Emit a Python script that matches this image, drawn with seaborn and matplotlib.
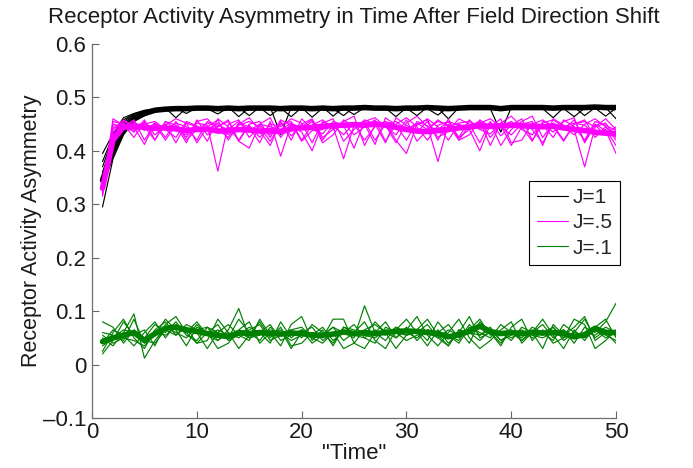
import numpy as np
import pandas as pd
import matplotlib
matplotlib.use("Agg")
import matplotlib.pyplot as plt
import seaborn as sns
from matplotlib.lines import Line2D

# time steps
t = list(range(1, 51))

# J=1 (black) individual runs
b_runs = [
    [0.395,0.432,0.462,0.470,0.476,0.479,0.481,0.480,0.470,0.481,0.482,0.480,0.479,0.481,0.466,0.482,0.480,0.481,0.479,0.482,0.480,0.478,0.481,0.480,0.482,0.481,0.479,0.480,0.464,0.481,0.482,0.480,0.479,0.481,0.480,0.482,0.480,0.481,0.479,0.482,0.481,0.480,0.479,0.462,0.481,0.482,0.480,0.481,0.479,0.482],
    [0.370,0.425,0.455,0.468,0.474,0.478,0.480,0.462,0.480,0.481,0.479,0.482,0.480,0.481,0.480,0.479,0.482,0.430,0.481,0.480,0.482,0.479,0.481,0.480,0.468,0.481,0.480,0.482,0.480,0.479,0.481,0.480,0.482,0.481,0.479,0.480,0.482,0.481,0.480,0.479,0.482,0.481,0.480,0.481,0.479,0.482,0.466,0.481,0.480,0.481],
    [0.350,0.410,0.448,0.463,0.472,0.477,0.479,0.481,0.480,0.482,0.479,0.469,0.481,0.480,0.482,0.481,0.479,0.480,0.482,0.481,0.463,0.480,0.482,0.481,0.479,0.480,0.482,0.481,0.480,0.479,0.482,0.481,0.480,0.460,0.481,0.479,0.482,0.480,0.481,0.480,0.479,0.482,0.481,0.480,0.482,0.479,0.481,0.480,0.465,0.480],
    [0.340,0.405,0.445,0.460,0.470,0.476,0.479,0.480,0.482,0.478,0.481,0.480,0.482,0.464,0.481,0.480,0.482,0.479,0.481,0.480,0.482,0.481,0.479,0.466,0.482,0.480,0.481,0.479,0.482,0.480,0.481,0.479,0.467,0.482,0.480,0.481,0.479,0.482,0.481,0.480,0.479,0.482,0.480,0.481,0.479,0.482,0.481,0.480,0.482,0.479],
    [0.330,0.400,0.440,0.458,0.468,0.474,0.478,0.480,0.481,0.479,0.482,0.480,0.481,0.479,0.482,0.481,0.466,0.481,0.480,0.482,0.479,0.481,0.480,0.482,0.481,0.479,0.482,0.480,0.481,0.479,0.482,0.481,0.480,0.479,0.482,0.481,0.480,0.479,0.435,0.481,0.482,0.480,0.481,0.479,0.482,0.480,0.481,0.479,0.482,0.481],
    [0.360,0.418,0.452,0.466,0.473,0.477,0.480,0.481,0.479,0.482,0.480,0.481,0.479,0.482,0.481,0.480,0.479,0.482,0.481,0.480,0.479,0.482,0.465,0.481,0.480,0.482,0.479,0.481,0.480,0.482,0.479,0.481,0.480,0.482,0.481,0.479,0.480,0.482,0.481,0.480,0.479,0.482,0.481,0.480,0.479,0.464,0.480,0.481,0.479,0.478],
    [0.295,0.385,0.430,0.455,0.466,0.473,0.477,0.479,0.481,0.480,0.482,0.479,0.481,0.480,0.482,0.479,0.481,0.480,0.479,0.482,0.481,0.480,0.482,0.479,0.481,0.480,0.482,0.479,0.481,0.480,0.466,0.482,0.481,0.480,0.479,0.482,0.481,0.480,0.482,0.479,0.481,0.480,0.482,0.479,0.481,0.480,0.482,0.479,0.481,0.460],
    [0.380,0.428,0.458,0.469,0.475,0.478,0.480,0.482,0.481,0.479,0.480,0.482,0.481,0.480,0.479,0.482,0.481,0.480,0.464,0.481,0.480,0.482,0.481,0.479,0.480,0.482,0.481,0.480,0.479,0.482,0.481,0.480,0.479,0.482,0.481,0.480,0.479,0.482,0.481,0.480,0.482,0.479,0.481,0.480,0.482,0.479,0.481,0.480,0.482,0.481],
]
b_mean = [0.345,0.400,0.440,0.460,0.470,0.476,0.478,0.479,0.479,0.480,0.480,0.479,0.480,0.479,0.480,0.480,0.480,0.479,0.480,0.480,0.479,0.480,0.479,0.480,0.480,0.481,0.480,0.480,0.479,0.480,0.480,0.481,0.480,0.479,0.480,0.481,0.481,0.481,0.479,0.481,0.481,0.481,0.481,0.480,0.481,0.481,0.481,0.482,0.481,0.481]

# J=.5 (magenta) individual runs
m_runs = [
    [0.320,0.455,0.450,0.425,0.455,0.430,0.448,0.460,0.452,0.415,0.445,0.458,0.420,0.450,0.462,0.438,0.410,0.455,0.428,0.450,0.460,0.425,0.440,0.455,0.465,0.410,0.448,0.452,0.420,0.395,0.450,0.458,0.425,0.437,0.460,0.450,0.415,0.455,0.428,0.448,0.460,0.420,0.450,0.435,0.455,0.462,0.415,0.448,0.430,0.445],
    [0.335,0.440,0.458,0.445,0.412,0.452,0.440,0.425,0.455,0.447,0.418,0.460,0.445,0.420,0.450,0.455,0.425,0.458,0.448,0.435,0.400,0.452,0.460,0.418,0.440,0.458,0.450,0.415,0.462,0.448,0.435,0.455,0.420,0.460,0.420,0.448,0.455,0.410,0.452,0.465,0.445,0.418,0.455,0.448,0.420,0.450,0.458,0.425,0.445,0.420],
    [0.315,0.450,0.445,0.458,0.420,0.450,0.420,0.448,0.415,0.458,0.430,0.445,0.455,0.418,0.405,0.450,0.462,0.425,0.452,0.440,0.455,0.415,0.430,0.458,0.445,0.450,0.412,0.462,0.448,0.420,0.455,0.447,0.380,0.450,0.425,0.458,0.440,0.452,0.410,0.440,0.455,0.465,0.425,0.452,0.440,0.458,0.418,0.450,0.438,0.395],
    [0.330,0.430,0.452,0.435,0.458,0.420,0.455,0.440,0.430,0.452,0.448,0.362,0.450,0.458,0.425,0.448,0.430,0.455,0.420,0.460,0.440,0.432,0.455,0.448,0.405,0.455,0.462,0.445,0.430,0.458,0.418,0.440,0.455,0.448,0.420,0.430,0.458,0.445,0.460,0.415,0.420,0.452,0.448,0.425,0.458,0.445,0.420,0.455,0.448,0.438],
    [0.325,0.445,0.440,0.452,0.445,0.420,0.455,0.448,0.425,0.455,0.460,0.440,0.425,0.452,0.445,0.415,0.455,0.390,0.450,0.445,0.458,0.420,0.448,0.430,0.452,0.445,0.458,0.418,0.450,0.462,0.445,0.420,0.448,0.455,0.425,0.440,0.452,0.460,0.445,0.430,0.450,0.455,0.410,0.460,0.448,0.440,0.370,0.445,0.452,0.425],
    [0.318,0.460,0.448,0.455,0.438,0.452,0.425,0.455,0.420,0.440,0.452,0.445,0.458,0.418,0.448,0.425,0.450,0.445,0.460,0.452,0.415,0.455,0.445,0.385,0.448,0.455,0.420,0.450,0.455,0.440,0.448,0.460,0.445,0.420,0.450,0.440,0.455,0.425,0.448,0.410,0.445,0.450,0.458,0.445,0.418,0.450,0.455,0.445,0.460,0.440],
    [0.340,0.435,0.455,0.448,0.452,0.440,0.450,0.415,0.452,0.445,0.440,0.452,0.430,0.448,0.455,0.445,0.418,0.450,0.455,0.420,0.448,0.458,0.440,0.452,0.430,0.445,0.455,0.448,0.415,0.452,0.465,0.445,0.440,0.455,0.448,0.440,0.400,0.450,0.445,0.455,0.440,0.430,0.452,0.458,0.445,0.430,0.450,0.460,0.445,0.430],
    [0.328,0.450,0.442,0.438,0.450,0.455,0.440,0.452,0.445,0.420,0.455,0.448,0.440,0.455,0.438,0.450,0.445,0.440,0.452,0.418,0.438,0.440,0.452,0.445,0.450,0.420,0.445,0.455,0.448,0.440,0.452,0.440,0.458,0.445,0.452,0.455,0.440,0.432,0.450,0.445,0.452,0.440,0.415,0.450,0.445,0.452,0.448,0.430,0.440,0.410],
]
m_mean = [0.330,0.420,0.445,0.445,0.444,0.442,0.443,0.441,0.438,0.440,0.441,0.437,0.438,0.440,0.439,0.437,0.438,0.436,0.441,0.443,0.444,0.446,0.447,0.448,0.449,0.448,0.450,0.448,0.444,0.440,0.437,0.436,0.438,0.440,0.443,0.445,0.447,0.446,0.447,0.448,0.447,0.446,0.445,0.446,0.443,0.440,0.438,0.435,0.433,0.432]

# J=.1 (green) individual runs
g_runs = [
    [0.080,0.070,0.040,0.065,0.050,0.075,0.060,0.080,0.055,0.045,0.070,0.060,0.050,0.085,0.060,0.045,0.070,0.055,0.065,0.050,0.075,0.060,0.040,0.070,0.065,0.055,0.080,0.060,0.050,0.070,0.045,0.065,0.060,0.075,0.050,0.065,0.085,0.055,0.060,0.045,0.070,0.060,0.075,0.050,0.065,0.040,0.070,0.060,0.080,0.115],
    [0.025,0.060,0.085,0.050,0.030,0.065,0.080,0.055,0.070,0.040,0.060,0.075,0.045,0.055,0.070,0.060,0.040,0.080,0.050,0.065,0.055,0.070,0.045,0.060,0.075,0.050,0.040,0.070,0.060,0.055,0.065,0.045,0.080,0.055,0.040,0.070,0.060,0.050,0.075,0.060,0.045,0.065,0.055,0.070,0.045,0.060,0.085,0.050,0.065,0.055],
    [0.050,0.035,0.060,0.095,0.012,0.045,0.070,0.060,0.050,0.075,0.055,0.045,0.065,0.105,0.050,0.060,0.075,0.045,0.055,0.065,0.040,0.055,0.070,0.060,0.050,0.110,0.060,0.045,0.070,0.055,0.060,0.075,0.050,0.035,0.065,0.060,0.055,0.070,0.045,0.060,0.050,0.070,0.060,0.045,0.075,0.060,0.050,0.065,0.055,0.045],
    [0.020,0.045,0.080,0.055,0.065,0.035,0.075,0.090,0.060,0.040,0.045,0.085,0.060,0.030,0.055,0.080,0.050,0.070,0.035,0.040,0.060,0.050,0.085,0.085,0.040,0.030,0.060,0.080,0.050,0.065,0.090,0.055,0.035,0.060,0.085,0.050,0.030,0.045,0.065,0.080,0.040,0.060,0.030,0.075,0.055,0.070,0.090,0.045,0.060,0.040],
    [0.060,0.055,0.045,0.085,0.040,0.055,0.085,0.065,0.035,0.070,0.060,0.030,0.040,0.065,0.080,0.040,0.060,0.035,0.075,0.090,0.045,0.065,0.035,0.070,0.060,0.080,0.045,0.030,0.065,0.085,0.060,0.035,0.065,0.040,0.060,0.090,0.050,0.060,0.035,0.070,0.085,0.045,0.065,0.040,0.050,0.085,0.075,0.030,0.045,0.065],
    [0.040,0.065,0.055,0.035,0.060,0.080,0.050,0.075,0.065,0.060,0.030,0.060,0.075,0.055,0.045,0.085,0.055,0.065,0.030,0.060,0.070,0.045,0.060,0.030,0.040,0.065,0.075,0.060,0.030,0.055,0.065,0.085,0.055,0.035,0.065,0.040,0.080,0.060,0.040,0.065,0.045,0.060,0.085,0.055,0.030,0.065,0.045,0.070,0.085,0.050],
    [0.035,0.050,0.065,0.060,0.045,0.040,0.065,0.055,0.075,0.065,0.070,0.045,0.060,0.050,0.065,0.075,0.045,0.055,0.065,0.070,0.050,0.040,0.060,0.065,0.055,0.050,0.065,0.055,0.070,0.060,0.050,0.065,0.060,0.055,0.045,0.075,0.055,0.065,0.045,0.055,0.065,0.050,0.060,0.070,0.050,0.060,0.055,0.065,0.050,0.060],
    [0.055,0.040,0.050,0.045,0.035,0.060,0.055,0.070,0.060,0.080,0.055,0.065,0.055,0.060,0.050,0.055,0.065,0.060,0.045,0.055,0.060,0.055,0.070,0.045,0.060,0.055,0.050,0.065,0.060,0.045,0.055,0.060,0.050,0.065,0.055,0.060,0.045,0.065,0.060,0.050,0.060,0.055,0.050,0.060,0.065,0.050,0.060,0.055,0.070,0.060],
]
g_mean = [0.043,0.050,0.055,0.060,0.045,0.058,0.068,0.070,0.065,0.062,0.058,0.055,0.052,0.060,0.058,0.060,0.058,0.057,0.059,0.058,0.055,0.055,0.057,0.061,0.058,0.060,0.058,0.060,0.062,0.063,0.062,0.060,0.058,0.052,0.056,0.062,0.072,0.062,0.058,0.060,0.058,0.060,0.059,0.060,0.058,0.052,0.056,0.068,0.060,0.060]

labels = ['J=1', 'J=.5', 'J=.1']
colors = ['black', '#ff00ff', '#008000']
yticks = [-0.1, 0, 0.1, 0.2, 0.3, 0.4, 0.5, 0.6]
ytick_labels = ['\u20130.1', '0', '0.1', '0.2', '0.3', '0.4', '0.5', '0.6']
xticks = [0, 10, 20, 30, 40, 50]

# long-form tables
rows = []
for lab, runs in zip(labels, [b_runs, m_runs, g_runs]):
    for i, r in enumerate(runs):
        for tt, v in zip(t, r):
            rows.append((lab, f'{lab}_{i}', tt, v))
runs_df = pd.DataFrame(rows, columns=['J', 'run', 't', 'value'])

mean_rows = []
for lab, mm in zip(labels, [b_mean, m_mean, g_mean]):
    for tt, v in zip(t, mm):
        mean_rows.append((lab, tt, v))
mean_df = pd.DataFrame(mean_rows, columns=['J', 't', 'value'])

sns.set_style('ticks')
plt.rcParams['font.family'] = ['Liberation Sans', 'DejaVu Sans']

fig = plt.figure(figsize=(6.93, 4.68), dpi=100)
ax = fig.add_axes([0.1328, 0.1068, 0.889 - 0.1328, 0.906 - 0.1068])

pal = dict(zip(labels, colors))
for lab in labels:
    sns.lineplot(data=runs_df[runs_df['J'] == lab], x='t', y='value', units='run',
                 estimator=None, color=pal[lab], lw=0.85, ax=ax, legend=False)
    sns.lineplot(data=mean_df[mean_df['J'] == lab], x='t', y='value',
                 color=pal[lab], lw=4, ax=ax, legend=False)

ax.set_xlim(0, 50)
ax.set_ylim(-0.1, 0.6)
ax.set_xticks(xticks)
ax.set_yticks(yticks)
ax.set_yticklabels(ytick_labels)
ax.tick_params(direction='in', length=5, width=0.8, labelsize=16, colors='#666666',
               labelcolor='#1a1a1a')
ax.tick_params(axis='y', pad=4)
ax.tick_params(axis='x', pad=3)
for s in ['top', 'right']:
    ax.spines[s].set_visible(False)
for s in ['left', 'bottom']:
    ax.spines[s].set_color('#6e6e6e')
    ax.spines[s].set_linewidth(0.9)

ax.set_title('Receptor Activity Asymmetry in Time After Field Direction Shift',
             fontsize=16, color='#1a1a1a', pad=15)
ax.set_xlabel('"Time"', fontsize=16, color='#1a1a1a', labelpad=0)
ax.set_ylabel('Receptor Activity Asymmetry', fontsize=15.5, color='#1a1a1a', labelpad=1)

handles = [Line2D([0], [0], color=c, lw=0.8) for c in colors]
leg = ax.legend(handles, labels, loc='upper right', bbox_to_anchor=(1.008, 0.634),
                fontsize=15, frameon=True, fancybox=False, framealpha=1,
                edgecolor='black', handlelength=1.5, handletextpad=0.25,
                borderpad=0.35, labelspacing=0.3, borderaxespad=0)
leg.get_frame().set_linewidth(0.8)

fig.savefig('out.png', dpi=100)
